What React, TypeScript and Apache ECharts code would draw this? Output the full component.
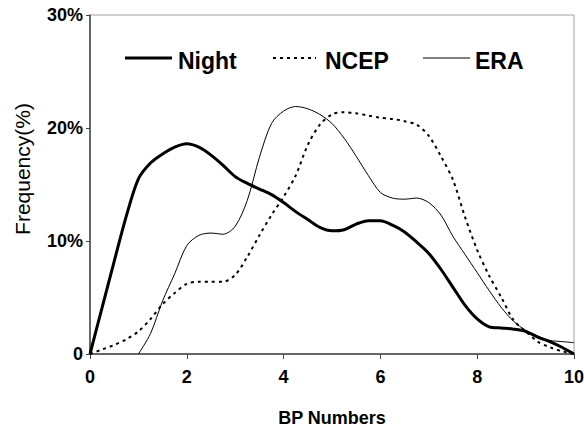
import React, { useEffect, useRef } from "react";
import * as echarts from "echarts";

const nightX = [0, 0.25, 0.5, 0.75, 1, 1.25, 1.5, 1.75, 2, 2.25, 2.5, 2.75, 3, 3.25, 3.5, 3.75, 4, 4.25, 4.5, 4.75, 5, 5.25, 5.5, 5.75, 6, 6.25, 6.5, 6.75, 7, 7.25, 7.5, 7.75, 8, 8.25, 8.5, 8.75, 9, 9.25, 9.5, 9.75, 10];
const nightY = [0, 4.1, 8.2, 12.2, 15.5, 16.9, 17.7, 18.3, 18.6, 18.3, 17.6, 16.7, 15.7, 15.1, 14.6, 14.1, 13.4, 12.6, 11.9, 11.2, 10.9, 11.0, 11.5, 11.8, 11.8, 11.4, 10.8, 9.9, 8.9, 7.5, 5.9, 4.3, 3.1, 2.4, 2.3, 2.2, 2.0, 1.5, 1.1, 0.6, 0];

const ncepX = [0, 0.25, 0.5, 0.75, 1, 1.25, 1.5, 1.75, 2, 2.25, 2.5, 2.75, 3, 3.25, 3.5, 3.75, 4, 4.25, 4.5, 4.75, 5, 5.25, 5.5, 5.75, 6, 6.25, 6.5, 6.75, 7, 7.25, 7.5, 7.75, 8, 8.25, 8.5, 8.75, 9, 9.25, 9.5, 9.75, 10];
const ncepY = [0, 0.4, 0.8, 1.3, 2.0, 3.1, 4.4, 5.4, 6.2, 6.4, 6.4, 6.4, 7.0, 8.6, 10.5, 12.3, 13.9, 15.8, 18.5, 20.3, 21.2, 21.4, 21.3, 21.1, 20.9, 20.8, 20.6, 20.3, 19.3, 17.5, 15.4, 12.1, 9.2, 6.9, 5.0, 3.0, 2.0, 1.1, 0.6, 0.25, 0];

const eraX = [1, 1.25, 1.5, 1.75, 2, 2.25, 2.5, 2.75, 3, 3.25, 3.5, 3.75, 4, 4.25, 4.5, 4.75, 5, 5.25, 5.5, 5.75, 6, 6.25, 6.5, 6.75, 7, 7.25, 7.5, 7.75, 8, 8.25, 8.5, 8.75, 9, 9.25, 9.5, 9.75, 10];
const eraY = [0, 1.8, 4.7, 7.1, 9.6, 10.5, 10.7, 10.6, 11.3, 13.6, 17.4, 20.4, 21.5, 21.9, 21.7, 21.2, 20.4, 19.1, 17.5, 15.8, 14.3, 13.8, 13.7, 13.8, 13.4, 12.3, 10.4, 8.8, 7.2, 5.6, 4.1, 2.9, 2.1, 1.6, 1.2, 1.1, 1.0];

const seriesNames = ["Night", "NCEP", "ERA"];
const xTicks = [0, 2, 4, 6, 8, 10];
const yTickLabels: Record<number, string> = { 0: "0", 10: "10%", 20: "20%", 30: "30%" };

const zip = (xs: number[], ys: number[]) => xs.map((x, i) => [x, ys[i]]);

const FONT = 'Arial, "Liberation Sans", sans-serif';

const lineStyles = [
  { color: "#000", width: 3 },
  { color: "#000", width: 2, type: [3, 4] as number[] },
  { color: "#000", width: 1 },
];

export default function App() {
  const ref = useRef<HTMLDivElement>(null);
  useEffect(() => {
    if (!ref.current) return;
    const chart = echarts.init(ref.current, undefined, { renderer: "svg" });

    const legendItems = [
      { x1: 125, x2: 172, tx: 178 },
      { x1: 273, x2: 316, tx: 325 },
      { x1: 423, x2: 470, tx: 475 },
    ];
    const legendGraphics: any[] = [];
    legendItems.forEach((it, i) => {
      const ls = lineStyles[i];
      legendGraphics.push({
        type: "line",
        shape: { x1: it.x1, y1: 58, x2: it.x2, y2: 58 },
        style: { stroke: ls.color, lineWidth: ls.width, lineDash: (ls as any).type || null },
      });
      legendGraphics.push({
        type: "text",
        x: it.tx,
        y: 61,
        style: {
          text: seriesNames[i],
          fontFamily: FONT,
          fontSize: 23,
          fontWeight: "bold",
          fill: "#000",
          textAlign: "left",
          textVerticalAlign: "middle",
        },
      });
    });

    chart.setOption({
      animation: false,
      backgroundColor: "#fff",
      grid: {
        left: 90,
        right: 10,
        top: 15,
        bottom: 73,
        show: true,
        borderColor: "#a0a0a0",
        borderWidth: 1,
        containLabel: false,
        outerBoundsMode: "none",
      },
      graphic: [
        ...legendGraphics,
        {
          type: "text",
          x: 22.5,
          y: 169,
          rotation: Math.PI / 2,
          style: {
            text: "Frequency(%)",
            fontFamily: FONT,
            fontSize: 21,
            fill: "#000",
            textAlign: "center",
            textVerticalAlign: "middle",
          },
        },
      ],
      xAxis: {
        type: "value",
        min: 0,
        max: 10,
        interval: 2,
        name: "BP Numbers",
        nameLocation: "middle",
        nameGap: 55,
        nameTextStyle: { fontFamily: FONT, fontSize: 18, fontWeight: "bold", color: "#000" },
        axisLine: { show: true, lineStyle: { color: "#444", width: 1.5 } },
        axisTick: { show: true, inside: false, length: 5, lineStyle: { color: "#444" } },
        axisLabel: {
          margin: 14,
          fontFamily: FONT,
          fontSize: 18,
          fontWeight: "bold",
          color: "#000",
          formatter: (v: number) => (xTicks.includes(v) ? String(v) : ""),
        },
        splitLine: { show: false },
      },
      yAxis: {
        type: "value",
        min: 0,
        max: 30,
        interval: 10,
        axisLine: { show: true, lineStyle: { color: "#444", width: 1.5 } },
        axisTick: { show: true, inside: false, length: 4, lineStyle: { color: "#444" } },
        axisLabel: {
          margin: 7,
          fontFamily: FONT,
          fontSize: 18,
          fontWeight: "bold",
          color: "#000",
          formatter: (v: number) => yTickLabels[v] ?? "",
        },
        splitLine: { show: false },
      },
      series: [
        {
          name: seriesNames[0],
          type: "line",
          data: zip(nightX, nightY),
          symbol: "none",
          smooth: 0.3,
          lineStyle: lineStyles[0],
        },
        {
          name: seriesNames[1],
          type: "line",
          data: zip(ncepX, ncepY),
          symbol: "none",
          smooth: 0.3,
          lineStyle: lineStyles[1],
        },
        {
          name: seriesNames[2],
          type: "line",
          data: zip(eraX, eraY),
          symbol: "none",
          smooth: 0.3,
          lineStyle: lineStyles[2],
        },
      ],
    });
    return () => chart.dispose();
  }, []);
  return (
    <div
      ref={ref}
      style={{ position: "fixed", left: 0, top: 0, width: 584, height: 427, background: "#fff" }}
    />
  );
}
